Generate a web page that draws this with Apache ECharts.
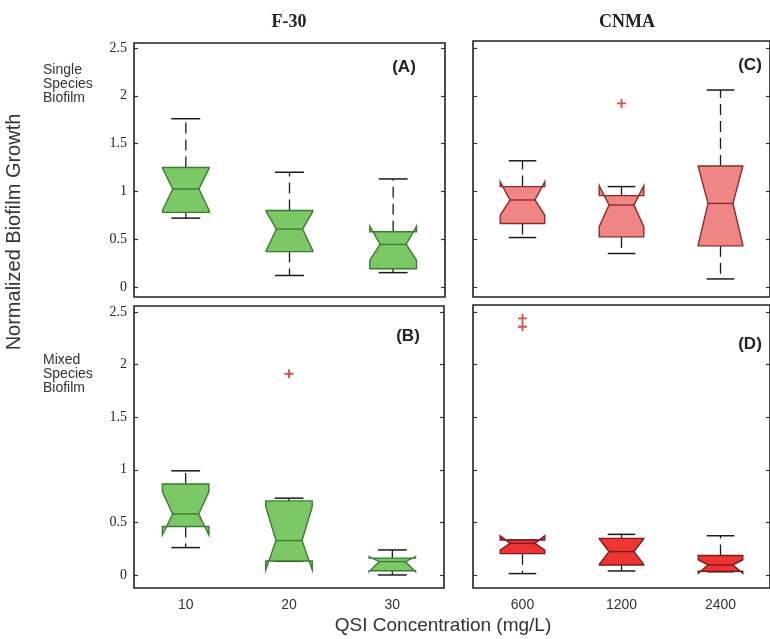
<!DOCTYPE html>
<html>
<head>
<meta charset="utf-8">
<script src="https://cdn.jsdelivr.net/npm/echarts@6/dist/echarts.min.js"></script>
<style>
  html, body { margin: 0; padding: 0; background: #fff; }
  #chart { width: 770px; height: 639px; }
</style>
</head>
<body>
<div id="chart"></div>
<script>
// Categories (QSI concentration, mg/L)
const f30Doses = ['10', '20', '30'];
const cnmaDoses = ['600', '1200', '2400'];

// Each box: [lowerWhisker, q1, notchLow, median, notchHigh, q3, upperWhisker]
const singleF30 = [
  [0.72, 0.78, 0.80, 1.025, 1.24, 1.25, 1.76],
  [0.12, 0.37, 0.38, 0.605, 0.79, 0.80, 1.20],
  [0.15, 0.19, 0.28, 0.445, 0.635, 0.577, 1.13]
];
const mixedF30 = [
  [0.26, 0.46, 0.38, 0.58, 0.79, 0.865, 0.99],
  [0.13, 0.133, 0.048, 0.327, 0.65, 0.704, 0.73],
  [0.0, 0.04, 0.03, 0.127, 0.175, 0.16, 0.238]
];
const singleCNMA = [
  [0.517, 0.664, 0.75, 0.91, 1.10, 1.05, 1.32],
  [0.35, 0.524, 0.63, 0.857, 1.06, 0.955, 1.05],
  [0.084, 0.43, 0.44, 0.874, 1.26, 1.266, 2.06]
];
const mixedCNMA = [
  [0.013, 0.2025, 0.237, 0.30, 0.373, 0.332, 0.332],
  [0.038, 0.095, 0.10, 0.222, 0.345, 0.348, 0.386],
  [0.03, 0.035, 0.016, 0.095, 0.145, 0.185, 0.373]
];

// Outliers: [category index, value]
const singleF30Outliers = [];
const mixedF30Outliers = [[1, 1.913]];
const singleCNMAOutliers = [[1, 1.92]];
const mixedCNMAOutliers = [[0, 2.44], [0, 2.36]];

const yTicks = [0, 0.5, 1, 1.5, 2, 2.5];

const chart = echarts.init(document.getElementById('chart'));

// Notched box drawn in data coordinates
function notchedBox(fill, edge) {
  return function (params, api) {
    const ci = api.value(0);
    const low = api.value(1), q1 = api.value(2), nlo = api.value(3),
          med = api.value(4), nhi = api.value(5), q3 = api.value(6), high = api.value(7);
    const band = api.size([1, 0])[0];
    const half = band * 0.225;
    const notch = half * 0.56;
    const cap = half * 0.62;
    const cx = api.coord([ci, med])[0];
    const y = v => api.coord([ci, v])[1];
    const L = cx - half, R = cx + half;
    const poly = [
      [L, y(q1)], [L, y(nlo)], [cx - notch, y(med)], [L, y(nhi)], [L, y(q3)],
      [R, y(q3)], [R, y(nhi)], [cx + notch, y(med)], [R, y(nlo)], [R, y(q1)]
    ];
    const whisk = { stroke: '#1a1a1a', lineWidth: 1.3, lineDash: [11, 6] };
    const capStyle = { stroke: '#1a1a1a', lineWidth: 1.5 };
    return {
      type: 'group',
      children: [
        { type: 'line', shape: { x1: cx, y1: y(q3), x2: cx, y2: y(high) }, style: whisk },
        { type: 'line', shape: { x1: cx, y1: y(q1), x2: cx, y2: y(low) }, style: whisk },
        { type: 'line', shape: { x1: cx - cap, y1: y(high), x2: cx + cap, y2: y(high) }, style: capStyle },
        { type: 'line', shape: { x1: cx - cap, y1: y(low), x2: cx + cap, y2: y(low) }, style: capStyle },
        { type: 'polygon', shape: { points: poly }, style: { fill: fill, stroke: edge, lineWidth: 1.4 } },
        { type: 'line', shape: { x1: cx - notch, y1: y(med), x2: cx + notch, y2: y(med) }, style: { stroke: edge, lineWidth: 1.4 } }
      ]
    };
  };
}

const plusSymbol = 'path://M4,0 L6,0 L6,4 L10,4 L10,6 L6,6 L6,10 L4,10 L4,6 L0,6 L0,4 L4,4 Z';

const grids = [
  { left: 134, top: 43, width: 311, height: 254 },
  { left: 134, top: 306, width: 310, height: 282 },
  { left: 473, top: 41, width: 306, height: 256 },
  { left: 473, top: 305, width: 306, height: 283 }
].map(g => Object.assign({ show: true, borderColor: '#222', borderWidth: 1.6, backgroundColor: 'transparent' }, g));

const yRanges = [
  [-0.105, 2.552],
  [-0.124, 2.557],
  [-0.105, 2.573],
  [-0.124, 2.567]
];

const xAxes = [0, 1, 2, 3].map(i => ({
  type: 'category',
  gridIndex: i,
  data: i < 2 ? f30Doses : cnmaDoses,
  boundaryGap: true,
  axisLine: { show: false },
  axisTick: { show: false },
  axisLabel: {
    show: i === 1 || i === 3,
    margin: 10,
    fontFamily: 'Liberation Sans Narrow, Liberation Sans, Arial',
    fontSize: 14,
    color: '#333'
  }
}));

const yAxes = [];
[0, 1, 2, 3].forEach(i => {
  ['left', 'right'].forEach(pos => {
    yAxes.push({
      type: 'value',
      gridIndex: i,
      position: pos,
      min: yRanges[i][0],
      max: yRanges[i][1],
      axisLine: { show: false },
      splitLine: { show: false },
      axisTick: { show: true, inside: true, length: 4, customValues: yTicks, lineStyle: { color: '#333', width: 1.2 } },
      axisLabel: {
        show: pos === 'left' && i < 2,
        customValues: yTicks,
        margin: 7,
        fontFamily: 'Liberation Serif, Times New Roman, serif',
        fontSize: 14,
        color: '#222',
        formatter: v => String(v)
      }
    });
  });
});

function boxSeries(idx, boxes, fill, edge) {
  return {
    type: 'custom',
    xAxisIndex: idx,
    yAxisIndex: idx * 2,
    renderItem: notchedBox(fill, edge),
    encode: { x: 0, y: [1, 2, 3, 4, 5, 6, 7] },
    data: boxes.map((b, k) => [k].concat(b)),
    z: 3
  };
}
function outlierSeries(idx, pts) {
  return {
    type: 'scatter',
    xAxisIndex: idx,
    yAxisIndex: idx * 2,
    symbol: plusSymbol,
    symbolSize: 9,
    itemStyle: { color: '#d01f1f' },
    data: pts,
    z: 4
  };
}

const green = '#7cc867', greenEdge = '#3b7a33';
const salmon = '#f08585', salmonEdge = '#8b2b2b';
const red = '#ee3434', redEdge = '#7a1a1a';

const textStyle = (t, x, y, font, extra) => ({
  type: 'text', x: x, y: y,
  style: Object.assign({ text: t, font: font, fill: '#222', align: 'center', verticalAlign: 'middle' }, extra || {})
});

chart.setOption({
  animation: false,
  grid: grids,
  xAxis: xAxes,
  yAxis: yAxes,
  series: [
    boxSeries(0, singleF30, green, greenEdge),
    boxSeries(1, mixedF30, green, greenEdge),
    boxSeries(2, singleCNMA, salmon, salmonEdge),
    boxSeries(3, mixedCNMA, red, redEdge),
    outlierSeries(0, singleF30Outliers),
    outlierSeries(1, mixedF30Outliers),
    outlierSeries(2, singleCNMAOutliers),
    outlierSeries(3, mixedCNMAOutliers)
  ],
  graphic: [
    textStyle('F-30', 289, 22, 'bold 18px "Liberation Serif", serif'),
    textStyle('CNMA', 627, 22, 'bold 18px "Liberation Serif", serif'),
    textStyle('(A)', 404, 67, 'bold 17px "Liberation Sans", Arial, sans-serif'),
    textStyle('(B)', 408, 336, 'bold 17px "Liberation Sans", Arial, sans-serif'),
    textStyle('(C)', 750, 65, 'bold 17px "Liberation Sans", Arial, sans-serif'),
    textStyle('(D)', 750, 344, 'bold 17px "Liberation Sans", Arial, sans-serif'),
    textStyle('Single\nSpecies\nBiofilm', 43, 84, '14px "Liberation Sans", Arial, sans-serif', { align: 'left', lineHeight: 14, fill: '#333' }),
    textStyle('Mixed\nSpecies\nBiofilm', 43, 374, '14px "Liberation Sans", Arial, sans-serif', { align: 'left', lineHeight: 14, fill: '#333' }),
    {
      type: 'text', x: 14, y: 232, rotation: Math.PI / 2,
      style: { text: 'Normalized Biofilm Growth', font: '20px "Liberation Sans", Arial, sans-serif', fill: '#333', align: 'center', verticalAlign: 'middle' }
    },
    textStyle('QSI Concentration (mg/L)', 443, 626, '19px "Liberation Sans", Arial, sans-serif', { fill: '#333' })
  ]
});
</script>
</body>
</html>
